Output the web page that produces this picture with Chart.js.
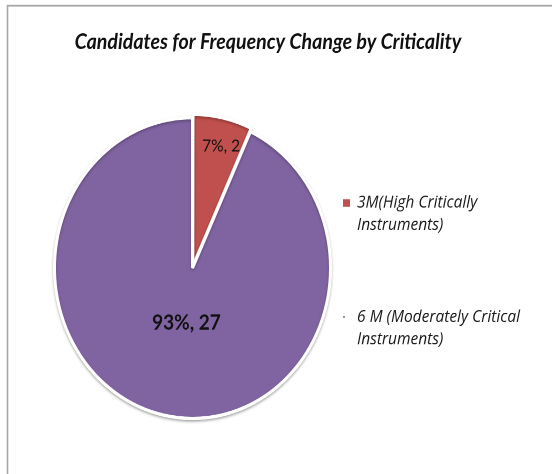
<!DOCTYPE html>
<html><head><meta charset="utf-8">
<script src="https://cdn.jsdelivr.net/npm/chart.js@4.4.1/dist/chart.umd.min.js"></script>
<style>
html,body{margin:0;padding:0;background:#fff;overflow:hidden;width:552px;height:474px}
#wrap{position:absolute;left:0;top:0;width:552px;height:435px;transform:scaleY(1.0897);transform-origin:0 0}
canvas{display:block}
</style></head><body>
<div id="wrap"><canvas id="c" width="552" height="435"></canvas></div>
<script>
const TITLE = "Candidates for Frequency Change by Criticality";
const categories = [["3M(High Critically", "Instruments)"], ["6 M (Moderately Critical", "Instruments)"]];
const counts = [2, 27];
const colors = ["#C0504D", "#8064A2"];

const total = counts.reduce((a, b) => a + b, 0);

const decor = {
  id: 'decor',
  beforeDatasetsDraw(chart) {
    const ctx = chart.ctx;
    ctx.save();
    ctx.strokeStyle = '#a8a8a8';
    ctx.lineWidth = 1.6;
    ctx.beginPath();
    ctx.moveTo(7.5, 435); ctx.lineTo(7.5, 5.2); ctx.lineTo(552, 5.2);
    ctx.stroke();
    ctx.restore();
    ctx.save();
    ctx.shadowColor = 'rgba(0,0,0,0.28)';
    ctx.shadowBlur = 5;
    ctx.shadowOffsetY = 3;
  },
  afterDatasetsDraw(chart, args, opts) {
    const ctx = chart.ctx;
    ctx.restore();
    // title
    ctx.save();
    ctx.fillStyle = '#111';
    ctx.textAlign = 'center';
    ctx.textBaseline = 'middle';
    ctx.font = 'italic bold 19.6px Lato';
    ctx.fillText(TITLE, 268, 38.5);
    ctx.restore();
    // slice labels
    const meta = chart.getDatasetMeta(0);
    meta.data.forEach((arc, i) => {
      const p = arc.getProps(['x', 'y', 'startAngle', 'endAngle', 'outerRadius'], true);
      const pl = opts.placement[i];
      const mid = (p.startAngle + p.endAngle) / 2;
      const off = i === 0 ? 8 : 0;
      const ang = pl.angle !== undefined ? pl.angle : mid;
      const r = p.outerRadius * pl.frac + off;
      const x = p.x + Math.cos(ang) * r;
      const y = p.y + Math.sin(ang) * r;
      const pct = Math.round(counts[i] / total * 100);
      ctx.save();
      ctx.fillStyle = '#111';
      ctx.textAlign = 'center';
      ctx.textBaseline = 'middle';
      ctx.font = pl.font;
      ctx.fillText(pct + '%, ' + counts[i], x, y);
      ctx.restore();
    });
    // legend
    ctx.save();
    ctx.font = 'italic 15.5px "Open Sans"';
    ctx.textBaseline = 'middle';
    const items = [{y: 186.3}, {y: 290.9}];
    categories.forEach((lines, i) => {
      const y0 = items[i].y;
      if (i === 0) {
        ctx.fillStyle = colors[0];
        ctx.fillRect(343, y0 - 3.5, 7, 7);
      } else {
        ctx.fillStyle = '#9a92a6';
        ctx.fillRect(343, y0 - 1, 2, 2);
      }
      ctx.fillStyle = '#1a1a1a';
      lines.forEach((t, k) => ctx.fillText(t, 357, y0 + k * 20.5));
    });
    ctx.restore();
  }
};

new Chart(document.getElementById('c'), {
  type: 'pie',
  data: {
    labels: categories,
    datasets: [{
      data: counts,
      backgroundColor: colors,
      borderColor: '#ffffff',
      borderWidth: 3,
      offset: ctx => ctx.dataIndex === 0 ? 8 : 0
    }]
  },
  options: {
    responsive: false,
    devicePixelRatio: 2,
    animation: false,
    radius: 138,
    layout: {padding: {left: 40, right: 207, top: 80, bottom: 23}},
    plugins: {
      legend: {display: false},
      title: {display: false},
      tooltip: {enabled: false},
      decor: {
        placement: [
          {frac: 0.78, angle: -Math.PI / 2 + 0.25, font: '15.5px Lato'},
          {frac: 0.367, angle: Math.PI / 2 + 0.12, font: 'bold 19px Lato'}
        ]
      }
    }
  },
  plugins: [decor]
});
</script>
</body></html>
